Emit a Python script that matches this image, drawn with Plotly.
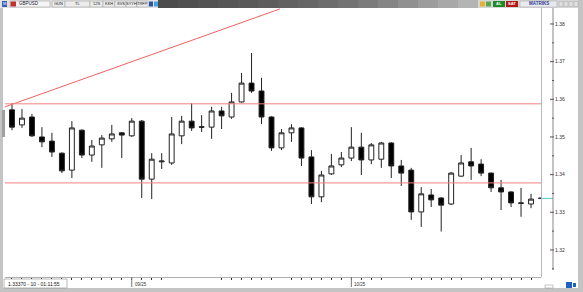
import plotly.graph_objects as go

# ---------------- data ----------------
candle_idx = list(range(54))
opens = [1.3572, 1.3532, 1.3553, 1.3500, 1.3489, 1.3457, 1.3412, 1.3518, 1.3452, 1.3479,
         1.3495, 1.3511, 1.3503, 1.3542, 1.3388, 1.3434, 1.3431, 1.3503, 1.3542, 1.3527,
         1.3526, 1.3569, 1.3553, 1.3593, 1.3643, 1.3622, 1.3553, 1.3471, 1.3511, 1.3524,
         1.3447, 1.3341, 1.3402, 1.3426, 1.3444, 1.3473, 1.3439, 1.3441, 1.3484, 1.3423,
         1.3412, 1.3301, 1.3346, 1.3338, 1.3322, 1.3396, 1.3434, 1.3428, 1.3404, 1.3365,
         1.3354, 1.3325, 1.3322, 1.33375]
highs = [1.3590, 1.3574, 1.3561, 1.3526, 1.3511, 1.3459, 1.3542, 1.3520, 1.3492, 1.3505,
         1.3532, 1.3513, 1.3550, 1.3545, 1.3457, 1.3457, 1.3553, 1.3556, 1.3590, 1.3558,
         1.3580, 1.3580, 1.3617, 1.3670, 1.3723, 1.3657, 1.3555, 1.3521, 1.3534, 1.3526,
         1.3465, 1.3410, 1.3455, 1.3460, 1.3526, 1.3511, 1.3484, 1.3487, 1.3486, 1.3439,
         1.3418, 1.3367, 1.3362, 1.3340, 1.3407, 1.3452, 1.3471, 1.3441, 1.3406, 1.3386,
         1.3356, 1.3365, 1.3349, 1.33375]
lows = [1.3518, 1.3524, 1.3500, 1.3473, 1.3447, 1.3404, 1.3391, 1.3444, 1.3434, 1.3418,
        1.3487, 1.3444, 1.3500, 1.3338, 1.3335, 1.3415, 1.3426, 1.3481, 1.3516, 1.3513,
        1.3495, 1.3521, 1.3548, 1.3591, 1.3617, 1.3534, 1.3463, 1.3465, 1.3487, 1.3423,
        1.3322, 1.3327, 1.3399, 1.3420, 1.3436, 1.3399, 1.3428, 1.3418, 1.3391, 1.3370,
        1.3280, 1.3261, 1.3314, 1.3249, 1.3319, 1.3394, 1.3386, 1.3396, 1.3354, 1.3306,
        1.3314, 1.3288, 1.3311, 1.3337]
closes = [1.3526, 1.3550, 1.3503, 1.3487, 1.3460, 1.3410, 1.3524, 1.3452, 1.3476, 1.3497,
          1.3508, 1.3505, 1.3542, 1.3388, 1.3441, 1.3436, 1.3508, 1.3542, 1.3524, 1.3526,
          1.3569, 1.3556, 1.3593, 1.3643, 1.3622, 1.3553, 1.3471, 1.3511, 1.3524, 1.3444,
          1.3341, 1.3399, 1.3423, 1.3444, 1.3473, 1.3439, 1.3479, 1.3484, 1.3423, 1.3404,
          1.3301, 1.3349, 1.3333, 1.3319, 1.3404, 1.3431, 1.3423, 1.3404, 1.3365, 1.3354,
          1.3325, 1.3324, 1.3335, 1.3337]

y_tick_vals = [1.32, 1.33, 1.34, 1.35, 1.36, 1.37, 1.38]
y_tick_text = ["1.32", "1.33", "1.34", "1.35", "1.36", "1.37", "1.38"]
y_minor_vals = [1.315, 1.325, 1.335, 1.345, 1.355, 1.365, 1.375]
x_tick_idx = [0, 1, 2, 3, 4, 5, 6, 7, 8, 9, 10, 11, 12, 13, 14, 15,
              21, 22, 23, 24, 25, 26, 28, 29, 30, 31, 32, 33, 34, 35, 36, 37,
              40, 41, 42, 43, 44, 45, 47, 48, 49, 50, 51, 52]
date_labels = ["09/25", "10/25"]
date_label_idx = [12, 34]

trend_x = [-0.7, 26.85]
trend_y = [1.3580, 1.3840]
level_lines = [1.3588, 1.3378]
last_price = 1.3337
info_text = "1.33370 - 10 - 01:11:55"

# ---------------- geometry helpers ----------------
W, H = 583, 292
PL, PR, PT, PB = 5, 541, 8, 277


def px(x):
    return (x - PL) / (PR - PL)


def py(y):
    return 1 - (y - PT) / (PB - PT)


FONT = "Liberation Sans, Arial, sans-serif"

fig = go.Figure()

fig.add_trace(go.Candlestick(
    x=candle_idx, open=opens, high=highs, low=lows, close=closes,
    increasing=dict(fillcolor="white", line=dict(color="#222222", width=1)),
    decreasing=dict(fillcolor="black", line=dict(color="#222222", width=1)),
    whiskerwidth=0, showlegend=False, hoverinfo="skip",
))

fig.add_trace(go.Scatter(
    x=trend_x, y=trend_y, mode="lines",
    line=dict(color="#f06060", width=1), showlegend=False, hoverinfo="skip",
))

shapes = []
annotations = []


def rect(x0, y0, x1, y1, fill, line=None, lw=0):
    shapes.append(dict(type="rect", xref="paper", yref="paper",
                       x0=px(x0), x1=px(x1), y0=py(y1), y1=py(y0),
                       fillcolor=fill, line=dict(color=line or fill, width=lw),
                       layer="above"))


def text(x, y, s, size=5, color="#222", anchor="left", bold=False):
    annotations.append(dict(xref="paper", yref="paper", x=px(x), y=py(y), text=("<b>%s</b>" % s) if bold else s,
                            showarrow=False, xanchor=anchor, yanchor="middle",
                            font=dict(size=size, color=color, family=FONT)))


# horizontal level lines
for lv in level_lines:
    shapes.append(dict(type="line", xref="paper", yref="y", x0=0, x1=1, y0=lv, y1=lv,
                       line=dict(color="#f48080", width=1), layer="above"))

# last price marker
shapes.append(dict(type="line", xref="paper", yref="y", x0=px(541), x1=px(553), y0=last_price, y1=last_price,
                   line=dict(color="#50c8d0", width=1), layer="above"))

# right axis region
rect(541, 8, 542, 277, "#b8b8b8")
shapes.append(dict(type="line", xref="paper", yref="paper", x0=px(553), x1=px(553), y0=py(270), y1=py(8),
                   line=dict(color="#888888", width=1), layer="above"))
for v in y_tick_vals:
    shapes.append(dict(type="line", xref="paper", yref="y", x0=px(550), x1=px(554), y0=v, y1=v,
                       line=dict(color="#555555", width=1), layer="above"))
for v in y_minor_vals:
    shapes.append(dict(type="line", xref="paper", yref="y", x0=px(552), x1=px(554), y0=v, y1=v,
                       line=dict(color="#555555", width=1), layer="above"))

# outer frame
rect(0, 0, 3, 292, "#c4c4c4")
rect(578, 0, 583, 292, "#c4c4c4")
rect(0, 288, 583, 292, "#c4c4c4")
rect(2, 110, 5, 137, "#a0a0a0")

# top toolbar
rect(0, 0, 158, 8, "#e2e2e2")
grad = ["#4c4c4c", "#505050", "#535353", "#565656", "#595959", "#5d5d5d", "#616161", "#666666",
        "#6c6c6c", "#737373", "#7b7b7b", "#858585", "#909090", "#9c9c9c", "#a8a8a8", "#b4b4b4"]
gx0, gx1 = 158, 478
step = (gx1 - gx0) / len(grad)
for k, c in enumerate(grad):
    rect(gx0 + k * step, 0, gx0 + (k + 1) * step + 0.6, 8, c)
rect(478, 0, 578, 8, "#d6d6d6")

rect(2, 1, 7, 7, "#3a5fb0")
text(4.5, 4, "M", size=4, color="white", anchor="center")
rect(10, 1, 50, 7, "#f4f4f4", "#9a9a9a", 0.5)
rect(10.5, 1.5, 16, 6.5, "#c03030")
text(17, 4, "GBPUSD", size=4.5, color="#223")
tool_boxes = [(52, 65, "GÜN"), (65, 90, "TL"), (90, 103, "12S"), (103, 115, "KKH"),
              (115, 126, "SVS"), (126, 137, "SYYH"), (137, 148, "TRFP")]
for x0, x1, lab in tool_boxes:
    rect(x0, 1, x1, 7, "#ececec", "#9a9a9a", 0.5)
    text((x0 + x1) / 2, 4, lab, size=4, color="#222", anchor="center")
rect(149, 1.5, 153, 6.5, "#3050a0")
rect(154, 1.5, 158, 6.5, "#40a0e0")

rect(480, 1.5, 485, 6.5, "#e8b030")
rect(486, 1.5, 491, 6.5, "#50a850")
rect(493, 1, 505, 7, "#1f8a2a")
text(499, 4, "AL", size=4, color="white", anchor="center", bold=True)
rect(506, 1, 518, 7, "#b01818")
text(512, 4, "SAT", size=4, color="white", anchor="center", bold=True)
rect(520, 1, 557, 7, "#e8eaf0", "#a0a0a0", 0.5)
text(538.5, 4, "MATRIKS", size=4.5, color="#303a90", anchor="center", bold=True)
for x0 in (559, 564, 569, 574):
    rect(x0, 1.5, x0 + 4, 6.5, "#e0e0e0", "#a8a8a8", 0.5)

# bottom strip
rect(4, 279, 67, 288, "#ffffff", "#8c8c8c", 0.6)
text(6, 283.5, info_text, size=5, color="#111")
for lab, i in zip(date_labels, date_label_idx):
    annotations.append(dict(xref="x", yref="paper", x=i, y=py(284), text=lab, showarrow=False,
                            xanchor="left", yanchor="middle", xshift=1,
                            font=dict(size=4.5, color="#333", family=FONT)))
    shapes.append(dict(type="line", xref="x", yref="paper", x0=i, x1=i, y0=py(287), y1=py(277),
                       line=dict(color="#777", width=1), layer="above"))
rect(545, 285, 553, 288, "#ffffff", "#888", 0.5)
rect(566, 282, 572, 288, "#2060c0")
rect(573, 283, 576, 287, "#2060c0")

fig.update_layout(
    width=W, height=H,
    margin=dict(l=PL, r=W - PR, t=PT, b=H - PB),
    paper_bgcolor="white", plot_bgcolor="white",
    shapes=shapes, annotations=annotations,
    showlegend=False,
    xaxis=dict(range=[-0.7, 53.0], rangeslider=dict(visible=False), showgrid=False, zeroline=False,
               tickvals=x_tick_idx, ticks="outside", ticklen=2, tickcolor="#333", tickwidth=1,
               showticklabels=False, showline=True, linecolor="#b0b0b0", linewidth=1),
    yaxis=dict(range=[1.31282, 1.38424], side="right", showgrid=False, zeroline=False,
               tickvals=y_tick_vals, ticktext=y_tick_text, ticks="", ticklabelstandoff=13,
               tickfont=dict(size=5, color="#333", family=FONT)),
)

fig.write_html("out.html")
